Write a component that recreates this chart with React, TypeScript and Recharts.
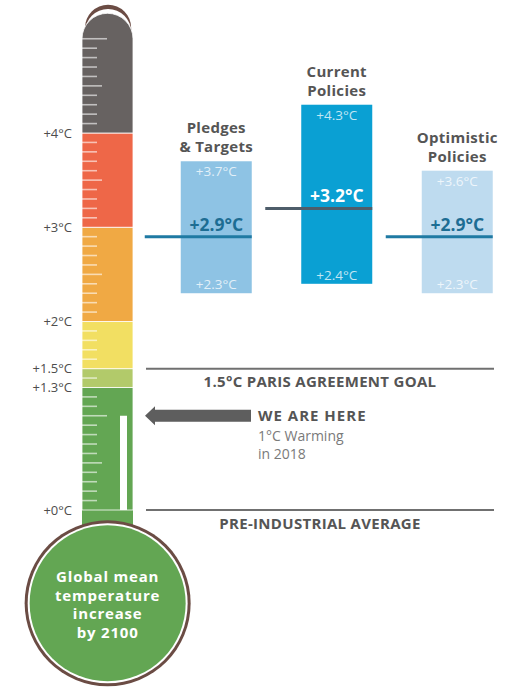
import React from 'react';
import { BarChart, Bar, XAxis, YAxis, ReferenceLine, ReferenceDot } from 'recharts';

const FONT = "'Open Sans', 'Noto Sans', sans-serif";

// Thermometer bands (°C above pre-industrial)
const BAND_EDGES = [0, 1.3, 1.5, 2, 3, 4, 5.27];
const BAND_COLORS = ['#63a653', '#b2ca6a', '#f2df62', '#f0a944', '#ee6748', '#676261'];
const AXIS_TICKS = [0, 1.3, 1.5, 2, 3, 4];
const AXIS_LABELS = ['+0°C', '+1.3°C', '+1.5°C', '+2°C', '+3°C', '+4°C'];
const WARMING_2018 = 1.0;
const PARIS_GOAL = 1.5;
const PRE_INDUSTRIAL = 0;

// Scenario ranges for 2100
const SCENARIOS = ['Pledges & Targets', 'Current Policies', 'Optimistic Policies'];
const TITLE_LINES = [
  ['Pledges', '& Targets'],
  ['Current', 'Policies'],
  ['Optimistic', 'Policies'],
];
const LOW = [2.3, 2.4, 2.3];
const MEDIAN = [2.9, 3.2, 2.9];
const HIGH = [3.7, 4.3, 3.6];
const BAR_COLORS = ['#8ec3e4', '#0aa0d3', '#bedbef'];
const MEDIAN_LINE_COLORS = ['#1f7aa3', '#4e5d6a', '#1f7aa3'];
const MEDIAN_TEXT_COLORS = ['#1d6d93', '#ffffff', '#1d6d93'];

const BULB_LINES = ['Global mean', 'temperature', 'increase', 'by 2100'];

const W = 510;
const H = 687;
const Y_DOMAIN: [number, number] = [-1.8, 5.4];
const MARGIN_TOP = 1.05;
const MARGIN_BOTTOM = 7.35;

// every 0.1°C on the tube scale
const SCALE_TICKS = Array.from({ length: 51 }, (_, i) => i / 10);

const fmt = (v: number) => `+${v.toFixed(1)}°C`;

const thermoRow: Record<string, any> = {
  name: 'tube',
  shell: [-1, 5.36],
  ring: [-1, 5.315],
  neck: [-0.3, 0],
  mercury: [0, WARMING_2018],
};
BAND_COLORS.forEach((_, i) => {
  thermoRow[`band${i}`] = BAND_EDGES[i + 1] - BAND_EDGES[i];
});

const scenarioData = SCENARIOS.map((name, i) => ({
  name,
  idx: i,
  range: [LOW[i], HIGH[i]],
  median: MEDIAN[i],
}));

const ThermoTick = (props: any) => {
  const { x, y, payload } = props;
  const tenth = Math.round(payload.value * 10);
  const idx = AXIS_TICKS.findIndex((t) => Math.round(t * 10) === tenth);
  const inner = x + 10;
  const len = tenth % 10 === 0 ? 25 : tenth % 5 === 0 ? 20 : 15;
  if (idx >= 0) {
    return (
      <text x={x} y={y} dy={4.5} textAnchor="end" fontSize={13} fill="#4d4d4d" fontFamily={FONT}>
        {AXIS_LABELS[idx]}
      </text>
    );
  }
  return (
    <line x1={inner} x2={inner + len} y1={y} y2={y} stroke="#ffffff" strokeOpacity={0.6} strokeWidth={1.6} />
  );
};

const Bulb = (props: any) => {
  const { cx, cy, r } = props;
  return (
    <g>
      <circle cx={cx} cy={cy} r={r} fill="#6b4c44" />
      <circle cx={cx} cy={cy} r={r - 3} fill="#ffffff" />
      <circle cx={cx} cy={cy} r={r - 5} fill="#63a653" />
      {BULB_LINES.map((t, i) => (
        <text
          key={t}
          x={cx}
          y={cy - 21 + i * 18.5}
          textAnchor="middle"
          fontSize={15}
          fontWeight={700}
          fill="#ffffff"
          letterSpacing={0.8}
          fontFamily={FONT}
        >
          {t}
        </text>
      ))}
    </g>
  );
};

const ScenarioBar = (props: any) => {
  const { x, y, width, height, payload } = props;
  const i = payload.idx;
  const top = Math.min(y, y + height);
  const h = Math.abs(height);
  const [low, high] = payload.range;
  const my = top + (h * (high - payload.median)) / (high - low);
  const cx = x + width / 2;
  const title = TITLE_LINES[i];
  return (
    <g fontFamily={FONT}>
      <rect x={x} y={top} width={width} height={h} fill={BAR_COLORS[i]} />
      <line x1={x - 36} x2={x + width} y1={my} y2={my} stroke={MEDIAN_LINE_COLORS[i]} strokeWidth={3} />
      <text x={cx} y={top + 15} textAnchor="middle" fontSize={13.5} fill="#ffffff" fillOpacity={0.75}>
        {fmt(high)}
      </text>
      <text x={cx} y={top + h - 4} textAnchor="middle" fontSize={13.5} fill="#ffffff" fillOpacity={0.75}>
        {fmt(low)}
      </text>
      <text x={cx} y={my - 6} textAnchor="middle" fontSize={17.5} fontWeight={700} fill={MEDIAN_TEXT_COLORS[i]}>
        {fmt(payload.median)}
      </text>
      {title.map((t, k) => (
        <text
          key={t}
          x={cx}
          y={top - 9 - (title.length - 1 - k) * 19}
          textAnchor="middle"
          fontSize={15}
          fontWeight={700}
          fill="#555555"
          letterSpacing={0.3}
        >
          {t}
        </text>
      ))}
    </g>
  );
};

const HereArrow = (props: any) => {
  const left = Math.min(props.x1, props.x2);
  const y = props.y1;
  const tip = left - 1;
  const end = left + 105;
  const pts = [
    [tip, y],
    [tip + 10, y - 9.5],
    [tip + 10, y - 6],
    [end, y - 6],
    [end, y + 6],
    [tip + 10, y + 6],
    [tip + 10, y + 9.5],
  ]
    .map((p) => p.join(','))
    .join(' ');
  const tx = left + 112;
  return (
    <g fontFamily={FONT}>
      <polygon points={pts} fill="#5e5e5e" />
      <text x={tx} y={y + 5.5} fontSize={15} fontWeight={700} fill="#555555" letterSpacing={1}>
        WE ARE HERE
      </text>
      <text x={tx} y={y + 25.5} fontSize={14} fill="#7a7a7a">
        1°C Warming
      </text>
      <text x={tx} y={y + 43.5} fontSize={14} fill="#7a7a7a">
        in 2018
      </text>
    </g>
  );
};

const lineLabel = (value: string) => ({
  value,
  position: 'bottom' as const,
  offset: 8,
  fill: '#555555',
  fontSize: 15,
  fontWeight: 700,
  fontFamily: FONT,
  letterSpacing: 0.3,
});

export default function App() {
  return (
    <div style={{ position: 'absolute', left: 0, top: 0, width: W, height: H, fontFamily: FONT, background: '#fff' }}>
      <div style={{ position: 'absolute', left: 0, top: 0 }}>
        <BarChart
          width={200}
          height={H}
          data={[thermoRow]}
          margin={{ top: MARGIN_TOP, right: 66.7, bottom: MARGIN_BOTTOM, left: 0 }}
          barCategoryGap={0}
          barGap={0}
        >
          <XAxis xAxisId="shell" dataKey="name" hide />
          <XAxis xAxisId="ring" dataKey="name" hide />
          <XAxis xAxisId="neck" dataKey="name" hide />
          <XAxis xAxisId="bands" dataKey="name" hide />
          <XAxis xAxisId="mercury" dataKey="name" hide padding={{ left: 38, right: 6.3 }} />
          <YAxis
            type="number"
            domain={Y_DOMAIN}
            allowDataOverflow
            width={82}
            ticks={SCALE_TICKS}
            interval={0}
            tick={ThermoTick}
            tickSize={6}
            tickMargin={4}
            axisLine={false}
            tickLine={false}
          />
          <Bar xAxisId="shell" dataKey="shell" fill="#6b4c44" barSize={63} radius={[31.5, 31.5, 0, 0]} isAnimationActive={false} />
          <Bar xAxisId="ring" dataKey="ring" fill="#ffffff" barSize={57} radius={[28.5, 28.5, 0, 0]} isAnimationActive={false} />
          <ReferenceDot xAxisId="bands" x="tube" y={-0.99} r={83} shape={Bulb} ifOverflow="visible" />
          <Bar xAxisId="neck" dataKey="neck" fill="#63a653" isAnimationActive={false} />
          {BAND_COLORS.map((c, i) => (
            <Bar
              key={c}
              xAxisId="bands"
              dataKey={`band${i}`}
              stackId="tube"
              fill={c}
              stroke="#ffffff"
              strokeWidth={0.8}
              radius={i === BAND_COLORS.length - 1 ? [25.6, 25.6, 0, 0] : 0}
              isAnimationActive={false}
            />
          ))}
          <Bar xAxisId="mercury" dataKey="mercury" fill="#ffffff" isAnimationActive={false} />
        </BarChart>
      </div>
      <div style={{ position: 'absolute', left: 0, top: 0 }}>
        <BarChart
          width={W}
          height={H}
          data={scenarioData}
          margin={{ top: MARGIN_TOP, right: 16, bottom: MARGIN_BOTTOM, left: 146 }}
        >
          <XAxis dataKey="name" hide padding={{ left: 9.75, right: -23.25 }} />
          <YAxis type="number" domain={Y_DOMAIN} allowDataOverflow hide />
          <ReferenceLine y={PARIS_GOAL} stroke="#707070" strokeWidth={2} label={lineLabel('1.5°C PARIS AGREEMENT GOAL')} />
          <ReferenceLine y={PRE_INDUSTRIAL} stroke="#707070" strokeWidth={2} label={lineLabel('PRE-INDUSTRIAL AVERAGE')} />
          <ReferenceLine y={WARMING_2018} shape={HereArrow} />
          <Bar dataKey="range" barSize={71} shape={ScenarioBar} isAnimationActive={false} />
        </BarChart>
      </div>
    </div>
  );
}
